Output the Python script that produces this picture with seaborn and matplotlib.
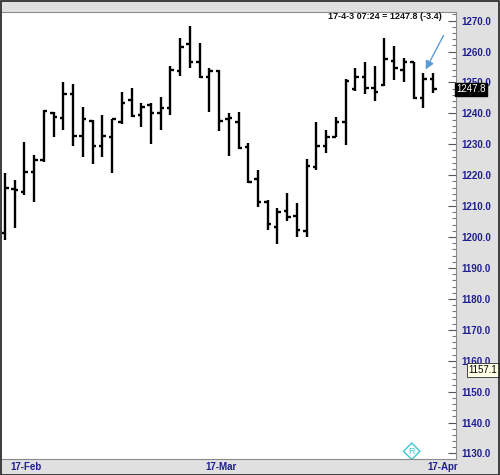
import matplotlib.pyplot as plt
import matplotlib.transforms as mtransforms
import numpy as np
import pandas as pd
import seaborn as sns
from matplotlib.patches import Rectangle
from matplotlib.ticker import MultipleLocator, FormatStrFormatter

sns.set_style("white")
plt.rcParams["font.family"] = ["Liberation Sans", "DejaVu Sans"]

# daily OHLC bars
opens = [1201.3, 1215.5, 1214.6, 1221.0, 1224.9, 1240.1, 1238.5, 1246.3, 1232.7, 1237.5,
         1229.4, 1232.4, 1237.2, 1244.3, 1239.5, 1242.7, 1240.1, 1241.7, 1253.7, 1262.5,
         1256.6, 1251.8, 1253.7, 1238.2, 1237.2, 1229.1, 1218.8, 1211.3, 1203.2, 1208.4,
         1206.8, 1201.9, 1222.6, 1229.4, 1232.4, 1237.2, 1247.9, 1251.8, 1248.2, 1249.2,
         1257.0, 1254.0, 1256.6, 1245.0, 1251.2]
highs = [1220.7, 1218.4, 1230.8, 1226.5, 1241.1, 1240.4, 1250.2, 1249.5, 1242.1, 1237.8,
         1239.5, 1238.2, 1246.9, 1248.2, 1243.4, 1243.4, 1245.3, 1255.3, 1264.4, 1268.3,
         1262.8, 1254.7, 1254.0, 1240.1, 1240.4, 1230.4, 1221.7, 1212.0, 1209.4, 1214.2,
         1211.0, 1225.2, 1237.2, 1234.6, 1238.8, 1251.1, 1254.7, 1256.6, 1255.3, 1264.4,
         1261.8, 1257.9, 1256.6, 1253.1, 1253.1]
lows = [1199.0, 1202.9, 1213.6, 1211.3, 1224.3, 1232.3, 1234.6, 1229.4, 1225.9, 1223.6,
        1225.9, 1220.7, 1236.6, 1238.8, 1235.6, 1230.1, 1234.6, 1239.5, 1252.1, 1254.7,
        1251.5, 1240.4, 1234.3, 1226.2, 1228.5, 1217.5, 1209.7, 1202.3, 1197.7, 1205.2,
        1200.0, 1200.0, 1221.7, 1227.2, 1232.4, 1229.7, 1247.2, 1246.3, 1244.0, 1248.9,
        1250.8, 1250.2, 1244.7, 1241.7, 1246.6]
closes = [1215.9, 1215.2, 1221.0, 1224.9, 1240.8, 1238.8, 1246.3, 1232.7, 1238.2, 1229.4,
          1232.7, 1238.2, 1243.4, 1239.2, 1242.1, 1240.1, 1241.7, 1254.0, 1261.5, 1256.6,
          1251.8, 1253.7, 1237.5, 1238.5, 1228.8, 1217.8, 1211.3, 1204.2, 1208.1, 1206.5,
          1202.3, 1223.0, 1229.4, 1232.4, 1237.2, 1250.5, 1251.8, 1248.2, 1246.9, 1257.6,
          1254.7, 1256.6, 1245.0, 1251.2, 1247.8]

date_labels = ["17-Feb", "17-Mar", "17-Apr"]
date_pos = [0.5, 20.6, 43.4]

last_price = 1247.8
low_marker = 1157.1
info_text = "17-4-3 07:24 = 1247.8 (-3.4)"

navy = "#1f1f8f"
panel = "#e0e0e0"

idx = np.arange(len(opens))
hl = pd.DataFrame({
    "bar": np.concatenate([idx, idx]),
    "price": np.concatenate([lows, highs]),
})

fig = plt.figure(figsize=(5, 4.75), dpi=100, facecolor=panel)
ax = fig.add_axes([2 / 500, 16 / 475, 454 / 500, 447 / 475])
ax.set_facecolor("white")

sns.lineplot(
    data=hl, x="bar", y="price", units="bar", estimator=None,
    color="black", linewidth=1.7, ax=ax, legend=False,
    solid_capstyle="butt"
)
ax.hlines(opens, idx - 0.36, idx, color="black", linewidth=1.7)
ax.hlines(closes, idx, idx + 0.36, color="black", linewidth=1.7)

ax.set_xlim(-0.31, 46.35)
ax.set_ylim(1128.2, 1272.8)

ax.yaxis.tick_right()
ax.yaxis.set_major_locator(MultipleLocator(10))
ax.yaxis.set_minor_locator(MultipleLocator(2))
ax.yaxis.set_major_formatter(FormatStrFormatter("%.1f"))
ax.tick_params(axis="y", which="major", direction="in", length=6, width=0.8,
               color="#555555", pad=4, labelsize=7, labelcolor=navy)
ax.tick_params(axis="y", which="minor", direction="in", length=3, width=0.8,
               color="#777777")
for lab in ax.get_yticklabels():
    lab.set_fontweight("bold")

ax.set_xticks(date_pos)
ax.set_xticklabels(date_labels, ha="left", fontweight="bold", color=navy, fontsize=7)
ax.tick_params(axis="x", length=0, pad=2)
ax.set_xlabel("")
ax.set_ylabel("")

for side in ["top", "bottom", "right"]:
    ax.spines[side].set_color("#8a8a8a")
    ax.spines[side].set_linewidth(0.8)
ax.spines["left"].set_visible(False)

trans = mtransforms.blended_transform_factory(ax.transAxes, ax.transData)

ax.text(0.969, 0.989, info_text, transform=ax.transAxes, ha="right", va="center",
        fontsize=6.5, fontweight="bold", color="#111111")

ax.text(1.0, last_price, f"{last_price:.1f}", transform=trans, ha="left", va="center",
        fontsize=7, color="white", clip_on=False, zorder=10,
        bbox=dict(boxstyle="square,pad=0.15", facecolor="black", edgecolor="black"))

ax.text(1.028, low_marker, f"{low_marker:.1f}", transform=trans, ha="left", va="center",
        fontsize=7, color="black", clip_on=False, zorder=10,
        bbox=dict(boxstyle="square,pad=0.2", facecolor="#ffffe6", edgecolor="#444444",
                  linewidth=0.7))

ax.annotate("", xy=(43.1, 1253.4), xytext=(45.2, 1266.0),
            arrowprops=dict(arrowstyle="-|>,head_length=0.5,head_width=0.25",
                            color="#5b9bd5", lw=1.0))

# small logo in the lower right
ax.scatter([41.8], [1130.7], marker="D", s=70, facecolor="none",
           edgecolor="#3cc8d0", linewidth=1.0)
ax.text(41.8, 1130.7, "R", ha="center", va="center", fontsize=6.5, color="#3cc8d0")

fig.patches.append(Rectangle((0.001, 0.001), 0.997, 0.997, transform=fig.transFigure,
                             fill=False, edgecolor="#222222", linewidth=1.2))

fig.savefig("out.png", dpi=100, facecolor=fig.get_facecolor())
